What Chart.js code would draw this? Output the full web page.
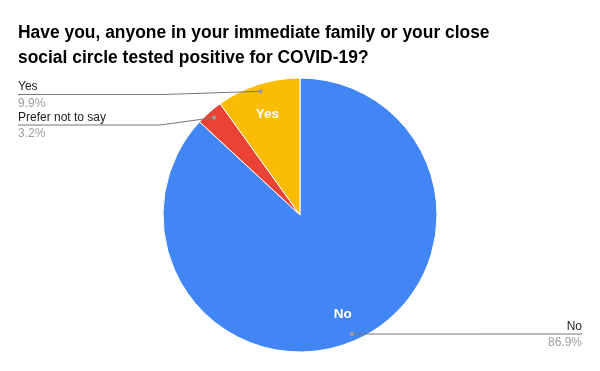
<!DOCTYPE html>
<html>
<head>
<meta charset="utf-8">
<script src="https://cdn.jsdelivr.net/npm/chart.js@4"></script>
<style>
html,body{margin:0;padding:0;background:#fff;}
#wrap{width:600px;height:371px;position:relative;}
</style>
</head>
<body>
<div id="wrap"><canvas id="c" width="600" height="371"></canvas></div>
<script>
const titleLines = ["Have you, anyone in your immediate family or your close", "social circle tested positive for COVID-19?"];
const categories = ["No", "Prefer not to say", "Yes"];
const values = [86.9, 3.2, 9.9];
const pctLabels = ["86.9%", "3.2%", "9.9%"];
const colors = ["#4285F4", "#EA4335", "#FBBC04"];
const innerLabelShown = [true, false, true];

// layout for outside labels: side and y of the horizontal leader line
const outside = [
  {side: "right", lineY: 334, bendX: null},
  {side: "left", lineY: 125, bendX: 160},
  {side: "left", lineY: 94.5, bendX: 163}
];

const FONT = '"Liberation Sans", Arial, sans-serif';

const labelPlugin = {
  id: 'labelPlugin',
  afterDraw(chart) {
    const ctx = chart.ctx;
    const meta = chart.getDatasetMeta(0);
    ctx.save();
    // title
    ctx.save();
    ctx.translate(18, 0);
    ctx.scale(0.968, 1);
    ctx.fillStyle = '#000';
    ctx.font = 'bold 18px ' + FONT;
    ctx.textAlign = 'left';
    ctx.textBaseline = 'alphabetic';
    ctx.fillText(titleLines[0], 0, 38.3);
    ctx.fillText(titleLines[1], 0, 63.3);
    ctx.restore();

    meta.data.forEach((arc, i) => {
      const p = arc.getProps(['x','y','startAngle','endAngle','outerRadius'], true);
      const mid = (p.startAngle + p.endAngle) / 2;
      // inner labels
      if (innerLabelShown[i]) {
        const r = p.outerRadius * 0.78;
        ctx.fillStyle = '#fff';
        ctx.font = 'bold 13.5px ' + FONT;
        ctx.textAlign = 'center';
        ctx.textBaseline = 'alphabetic';
        ctx.fillText(categories[i], p.x + Math.cos(mid) * r, p.y + Math.sin(mid) * r + 5);
      }
      // leader line
      const rd = p.outerRadius * 0.948;
      const dx = p.x + Math.cos(mid) * rd;
      const dy = p.y + Math.sin(mid) * rd;
      const o = outside[i];
      ctx.strokeStyle = '#777';
      ctx.lineWidth = 1;
      ctx.beginPath();
      ctx.moveTo(dx, dy);
      let endX;
      if (o.side === 'left') {
        endX = 18;
        ctx.lineTo(o.bendX, o.lineY);
        ctx.lineTo(endX, o.lineY);
      } else {
        endX = 582;
        ctx.lineTo(endX, o.lineY);
      }
      ctx.stroke();
      ctx.fillStyle = '#999';
      ctx.beginPath();
      ctx.arc(dx, dy, 2.2, 0, Math.PI * 2);
      ctx.fill();
      // texts
      ctx.textBaseline = 'alphabetic';
      ctx.textAlign = o.side === 'left' ? 'left' : 'right';
      ctx.font = '12px ' + FONT;
      ctx.fillStyle = '#222';
      ctx.fillText(categories[i], endX, o.lineY - 4.5);
      ctx.fillStyle = '#9e9e9e';
      ctx.fillText(pctLabels[i], endX, o.lineY + 12.3);
    });
    ctx.restore();
  }
};

new Chart(document.getElementById('c'), {
  type: 'pie',
  data: {
    labels: categories,
    datasets: [{
      data: values,
      backgroundColor: colors,
      borderColor: '#ffffff',
      borderWidth: 1
    }]
  },
  options: {
    responsive: false,
    animation: false,
    layout: {padding: {top: 77.5, bottom: 18.5, left: 20, right: 20}},
    plugins: {
      legend: {display: false},
      tooltip: {enabled: false},
      title: {display: false}
    }
  },
  plugins: [labelPlugin]
});
</script>
</body>
</html>
